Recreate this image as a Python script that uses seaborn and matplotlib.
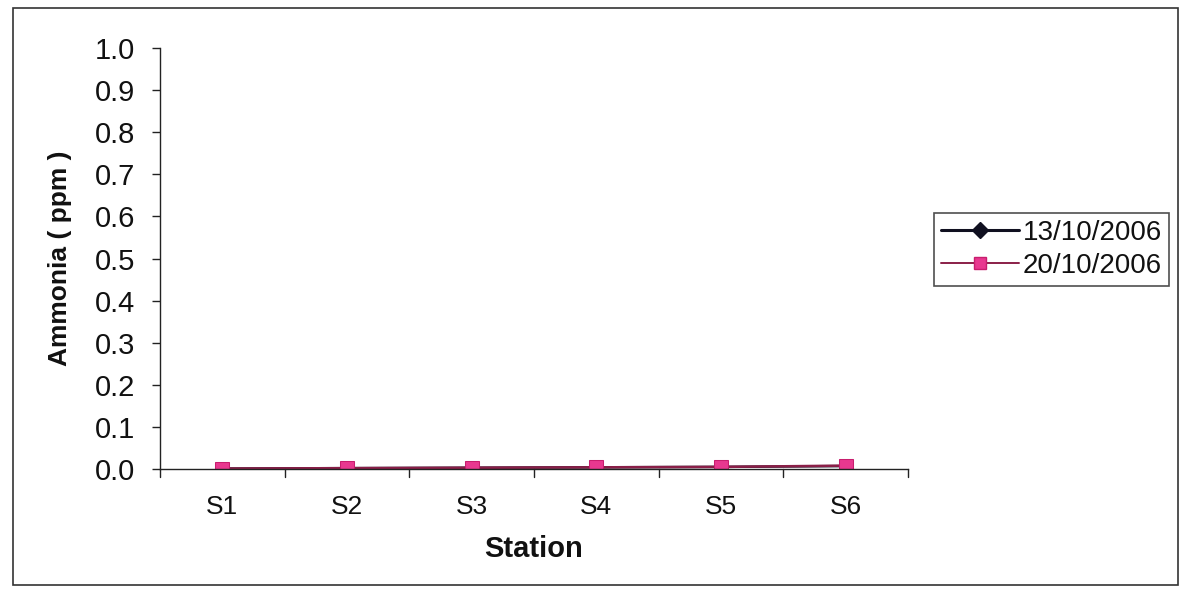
import matplotlib
matplotlib.use("Agg")
import matplotlib.pyplot as plt
import seaborn as sns
import pandas as pd
from matplotlib.patches import Rectangle
from matplotlib.lines import Line2D

stations = ["S1", "S2", "S3", "S4", "S5", "S6"]
dates = ["13/10/2006", "20/10/2006"]
ammonia_13 = [0.001, 0.002, 0.003, 0.004, 0.005, 0.007]
ammonia_20 = [0.001, 0.002, 0.003, 0.004, 0.005, 0.008]
y_ticks = [0.0, 0.1, 0.2, 0.3, 0.4, 0.5, 0.6, 0.7, 0.8, 0.9, 1.0]

df = pd.DataFrame({
    "Station": stations * 2,
    "Ammonia": ammonia_13 + ammonia_20,
    "Date": [dates[0]] * len(stations) + [dates[1]] * len(stations),
})

sns.set_theme(style="white")
plt.rcParams["font.family"] = ["Liberation Sans", "DejaVu Sans"]
plt.rcParams["text.color"] = "#111111"

fig = plt.figure(figsize=(11.8, 5.89), dpi=100)
fig.patch.set_facecolor("white")
ax = fig.add_axes([160 / 1180, 1 - 469 / 589, 748 / 1180, 421 / 589])

palette = {dates[0]: "#101020", dates[1]: "#8a1f48"}
markers = {dates[0]: "D", dates[1]: "s"}
sns.lineplot(data=df, x="Station", y="Ammonia", hue="Date", style="Date",
             palette=palette, markers=markers, dashes=False, ax=ax,
             linewidth=1.8, legend=False)

for line, face, edge, size in zip(ax.lines, ["#101020", "#e8388f"],
                                  ["#101020", "#c81e6e"], [6.5, 10.5]):
    line.set_markerfacecolor(face)
    line.set_markeredgecolor(edge)
    line.set_markersize(size)

ax.set_xlim(-0.5, 5.5)
ax.set_ylim(0.0, 1.0)
ax.set_yticks(y_ticks)
ax.set_yticklabels([f"{v:.1f}" for v in y_ticks], fontsize=21, color="#111111")
ax.set_xticks(range(len(stations)))
ax.set_xticklabels(stations, fontsize=19, color="#111111")
ax.tick_params(axis="x", length=0, pad=19)
ax.tick_params(axis="y", length=6, width=1, color="#222222", left=True, pad=12)
# category boundary tick marks
for b in [i + 0.5 for i in range(-1, 6)]:
    ax.plot([b, b], [0, -0.018], color="#222222", lw=1, clip_on=False)

for s in ["top", "right"]:
    ax.spines[s].set_visible(False)
for s in ["left", "bottom"]:
    ax.spines[s].set_color("#222222")
    ax.spines[s].set_linewidth(1)

ax.set_xlabel("Station", fontsize=21, fontweight="bold", labelpad=11, color="#111111")
ax.set_ylabel("Ammonia ( ppm )", fontsize=19, fontweight="bold", labelpad=16, color="#111111")

handles = [
    Line2D([], [], color="#101020", lw=2.2, marker="D", markersize=8,
           markerfacecolor="#101020", markeredgecolor="#101020"),
    Line2D([], [], color="#8a1f48", lw=1.4, marker="s", markersize=9,
           markerfacecolor="#e8388f", markeredgecolor="#c81e6e"),
]
leg = fig.legend(handles, dates, loc="upper left",
                 bbox_to_anchor=(934 / 1180, 1 - 213 / 589),
                 fontsize=20, frameon=True, fancybox=False, handlelength=2.8,
                 handletextpad=0.15, borderpad=0.25, labelspacing=0.25,
                 borderaxespad=0)
leg.get_frame().set_edgecolor("#222222")
leg.get_frame().set_linewidth(1.2)

# outer chart border
fig.patches.append(Rectangle((13 / 1180, 4 / 589), 1165 / 1180, 577 / 589,
                             transform=fig.transFigure, fill=False,
                             edgecolor="#333333", linewidth=1.2))

fig.savefig("out.png", dpi=100)
